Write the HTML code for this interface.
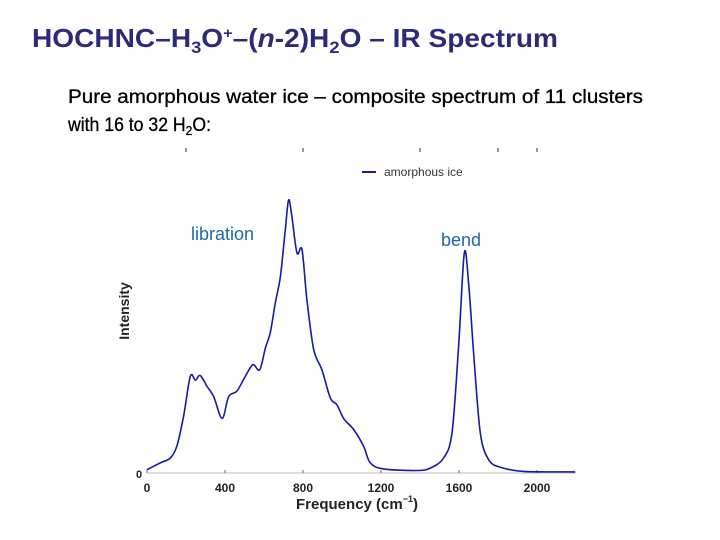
<!DOCTYPE html>
<html><head><meta charset="utf-8"><style>
body{margin:0;background:#fff}
svg{display:block;font-family:"Liberation Sans",sans-serif}
</style></head><body>
<svg width="720" height="540" viewBox="0 0 720 540">
<text x="32" y="47" font-size="26" font-weight="bold" fill="#2b2b78" textLength="526" lengthAdjust="spacingAndGlyphs">HOCHNC–H<tspan font-size="17" dy="6">3</tspan><tspan dy="-6">O</tspan><tspan font-size="15" dy="-9">+</tspan><tspan dy="9">–(</tspan><tspan font-style="italic">n</tspan>-2)H<tspan font-size="17" dy="6">2</tspan><tspan dy="-6">O – IR Spectrum</tspan></text>
<text x="68" y="103" font-size="19" fill="#000" stroke="#000" stroke-width="0.3" textLength="575" lengthAdjust="spacingAndGlyphs">Pure amorphous water ice – composite spectrum of 11 clusters</text>
<text x="68" y="131" font-size="19" fill="#000" stroke="#000" stroke-width="0.3" textLength="143" lengthAdjust="spacingAndGlyphs">with 16 to 32 H<tspan font-size="13" dy="4">2</tspan><tspan dy="-4">O:</tspan></text>
<g id="chart"></g>
</svg>
<script>
const freqs=[0,68,120,154,188,222,248,273,308,342,385,419,461,504,543,578,607,632,658,684,709,726,743,769,795,820,855,897,940,974,1008,1060,1111,1145,1213,1384,1453,1521,1564,1598,1627,1649,1675,1709,1752,1812,1931,2196];
const intensity=[0.012,0.037,0.055,0.10,0.21,0.354,0.34,0.357,0.317,0.28,0.20,0.28,0.30,0.354,0.397,0.378,0.458,0.513,0.623,0.72,0.89,1.0,0.94,0.806,0.818,0.635,0.452,0.378,0.275,0.25,0.20,0.159,0.098,0.037,0.015,0.009,0.018,0.055,0.147,0.464,0.806,0.696,0.44,0.147,0.049,0.021,0.006,0.004];
const xTicks=[0,400,800,1200,1600,2000];
const topTicks=[200,800,1400,1800,2000];
const NS='http://www.w3.org/2000/svg';
const g=document.getElementById('chart');
const X=v=>147+v*0.195, Y=v=>473-v*273;
function el(t,a){const e=document.createElementNS(NS,t);for(const k in a)e.setAttribute(k,a[k]);g.appendChild(e);return e;}
const ax=el('line',{x1:147,y1:473,x2:576,y2:473,stroke:'#bbb','stroke-width':1});


xTicks.forEach(t=>{
 const tk=el('line',{x1:X(t),y1:473,x2:X(t),y2:470,stroke:'#666'});
 
 
 const lb=el('text',{x:X(t),y:492,'font-size':12,'font-weight':'bold','text-anchor':'middle',fill:'#222'});
 lb.textContent=t;
 
 
});
topTicks.forEach(t=>{
 const tk=el('line',{x1:X(t),y1:148,x2:X(t),y2:152,stroke:'#333'});
 
 
});
const z=el('text',{x:136,y:478,'font-size':11,'font-weight':'bold',fill:'#222'});z.textContent='0';


const yt=el('text',{x:0,y:0,'font-size':14,'font-weight':'bold',fill:'#222','text-anchor':'middle',transform:'translate(129,311) rotate(-90)'});yt.textContent='Intensity';


const xt=el('text',{x:357,y:509,'font-size':15,'font-weight':'bold',fill:'#222','text-anchor':'middle'});
xt.innerHTML='Frequency (cm<tspan font-size="9" dy="-7">−1</tspan><tspan dy="7">)</tspan>';


const pts=freqs.map((f,i)=>[X(f),Y(intensity[i])]);
let d='M'+pts[0][0].toFixed(1)+','+pts[0][1].toFixed(1);
for(let i=0;i<pts.length-1;i++){
 const p0=pts[Math.max(0,i-1)],p1=pts[i],p2=pts[i+1],p3=pts[Math.min(pts.length-1,i+2)];
 const t=0.16;
 const c1=[p1[0]+(p2[0]-p0[0])*t,p1[1]+(p2[1]-p0[1])*t];
 const c2=[p2[0]-(p3[0]-p1[0])*t,p2[1]-(p3[1]-p1[1])*t];
 d+='C'+c1.map(v=>v.toFixed(1)).join(',')+' '+c2.map(v=>v.toFixed(1)).join(',')+' '+p2.map(v=>v.toFixed(1)).join(',');
}
const p=el('path',{d:d,fill:'none',stroke:'#1a1aa0','stroke-width':1.6,'stroke-linejoin':'round'});


const ll=el('line',{x1:362,y1:172,x2:376,y2:172,stroke:'#1a1aa0','stroke-width':2});


const lt=el('text',{x:384,y:176,'font-size':12,fill:'#333'});lt.textContent='amorphous ice';


const a1=el('text',{x:191,y:240,'font-size':18,fill:'#1a6aa8'});a1.textContent='libration';


const a2=el('text',{x:441,y:246,'font-size':18,fill:'#1a6aa8'});a2.textContent='bend';


</script>
</body></html>
